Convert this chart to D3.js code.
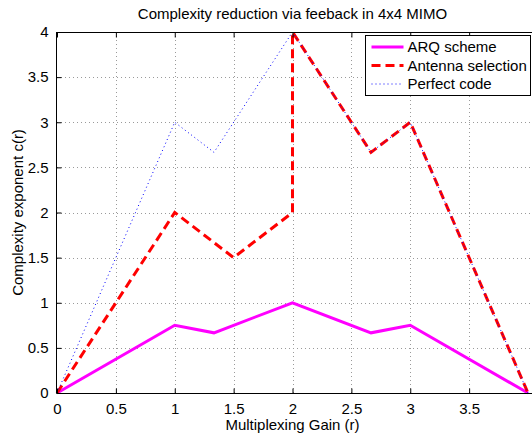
<!DOCTYPE html>
<html>
<head>
<meta charset="utf-8">
<script src="https://cdn.jsdelivr.net/npm/d3@7"></script>
<style>
  html, body { margin: 0; padding: 0; background: #fff; overflow: hidden; }
  svg { display: block; font-family: "Liberation Sans", Arial, sans-serif; }
</style>
</head>
<body>
<svg id="chart" width="532" height="435"></svg>
<script>
// Multiplexing gain r (x) and complexity exponent c(r) (y) per scheme
const arqX = [0, 1, 4 / 3, 2, 8 / 3, 3, 4];
const arqY = [0, 0.75, 2 / 3, 1, 2 / 3, 0.75, 0];

const antX = [0, 1, 1.5, 2, 2, 8 / 3, 3, 4];
const antY = [0, 2, 1.5, 2, 4, 8 / 3, 3, 0];

const perfX = [0, 1, 4 / 3, 2, 8 / 3, 3, 4];
const perfY = [0, 3, 8 / 3, 4, 8 / 3, 3, 0];

const xTicks = [0, 0.5, 1, 1.5, 2, 2.5, 3, 3.5];
const yTicks = [0, 0.5, 1, 1.5, 2, 2.5, 3, 3.5, 4];
const seriesNames = ["ARQ scheme", "Antenna selection", "Perfect code"];

const W = 532, H = 435;
const FS = 15;
const margin = { left: 57, top: 32, right: 4, bottom: 42 };
const svg = d3.select("#chart");

const x = d3.scaleLinear().domain([0, 4]).range([margin.left, 528]);
const y = d3.scaleLinear().domain([0, 4]).range([H - margin.bottom, margin.top]);

// grid
const grid = svg.append("g").attr("stroke", "#9a9a9a").attr("stroke-width", 1)
  .attr("stroke-dasharray", "1,3");
grid.selectAll("line.v").data(xTicks.filter(d => d > 0)).join("line")
  .attr("x1", d => Math.round(x(d)) + 0.5).attr("x2", d => Math.round(x(d)) + 0.5)
  .attr("y1", y(4)).attr("y2", y(0));
grid.selectAll("line.h").data(yTicks.filter(d => d > 0 && d < 4)).join("line")
  .attr("class", "h")
  .attr("x1", x(0)).attr("x2", W)
  .attr("y1", d => Math.round(y(d)) + 0.5).attr("y2", d => Math.round(y(d)) + 0.5);

// series, drawn in plotting order (perfect code ends up on top)
const series = [
  { xs: arqX, ys: arqY, color: "#ff00ff", width: 3, dash: null },
  { xs: antX, ys: antY, color: "#ff0000", width: 3, dash: "9,5" },
  { xs: perfX, ys: perfY, color: "#0000ff", width: 1, dash: "1,3" }
];
const line = d3.line().x(d => x(d[0])).y(d => y(d[1]));
const plot = svg.append("g");
series.forEach(s => {
  plot.append("path")
    .datum(d3.zip(s.xs, s.ys))
    .attr("fill", "none")
    .attr("stroke", s.color)
    .attr("stroke-width", s.width)
    .attr("stroke-dasharray", s.dash)
    .attr("stroke-linejoin", "miter")
    .attr("d", line);
});

// axes frame (left, top, bottom)
const frame = svg.append("g").attr("stroke", "#000").attr("stroke-width", 1).attr("fill", "none");
frame.append("line").attr("x1", x(0) - 0.5).attr("x2", x(0) - 0.5).attr("y1", y(4)).attr("y2", y(0));
frame.append("line").attr("x1", x(0) - 0.5).attr("x2", W).attr("y1", y(4) + 0.5).attr("y2", y(4) + 0.5);
frame.append("line").attr("x1", x(0) - 0.5).attr("x2", W).attr("y1", y(0) + 0.5).attr("y2", y(0) + 0.5);

// x axis ticks and labels (bottom), inward ticks on top too
const xAxis = d3.axisBottom(x).tickValues(xTicks).tickSizeInner(-5).tickSizeOuter(0)
  .tickFormat(d3.format("~g")).tickPadding(10);
const gx = svg.append("g").attr("transform", `translate(0,${y(0) + 0.5})`).call(xAxis);
gx.select(".domain").remove();
gx.selectAll("text").attr("font-size", FS).attr("fill", "#000")
  .attr("font-family", "Liberation Sans, Arial, sans-serif");
const xTop = d3.axisTop(x).tickValues(xTicks).tickSizeInner(-5).tickSizeOuter(0).tickFormat("");
const gxt = svg.append("g").attr("transform", `translate(0,${y(4) + 0.5})`).call(xTop);
gxt.select(".domain").remove();

// y axis
const yAxis = d3.axisLeft(y).tickValues(yTicks).tickSizeInner(-5).tickSizeOuter(0)
  .tickFormat(d3.format("~g")).tickPadding(8);
const gy = svg.append("g").attr("transform", `translate(${x(0) - 0.5},0)`).call(yAxis);
gy.select(".domain").remove();
gy.selectAll("text").attr("font-size", FS).attr("fill", "#000")
  .attr("font-family", "Liberation Sans, Arial, sans-serif");

// title and axis labels
svg.append("text").attr("x", x(2)).attr("y", 19).attr("text-anchor", "middle")
  .attr("font-size", FS).text("Complexity reduction via feeback in 4x4 MIMO");
svg.append("text").attr("x", x(2)).attr("y", 430).attr("text-anchor", "middle")
  .attr("font-size", FS).text("Multiplexing Gain (r)");
svg.append("text").attr("transform", `translate(23,${(y(0) + y(4)) / 2}) rotate(-90)`)
  .attr("text-anchor", "middle").attr("font-size", FS).text("Complexity exponent c(r)");

// legend
const lg = svg.append("g").attr("transform", "translate(365.5,35.5)");
lg.append("rect").attr("width", 165).attr("height", 60)
  .attr("fill", "#fff").attr("stroke", "#000").attr("stroke-width", 1);
series.forEach((s, i) => {
  const cy = 11.5 + i * 18.5;
  lg.append("line").attr("x1", 6).attr("x2", 38).attr("y1", cy).attr("y2", cy)
    .attr("stroke", s.color).attr("stroke-width", s.width)
    .attr("stroke-dasharray", s.dash);
  lg.append("text").attr("x", 42).attr("y", cy + 5).attr("font-size", FS)
    .text(seriesNames[i]);
});
</script>
</body>
</html>
